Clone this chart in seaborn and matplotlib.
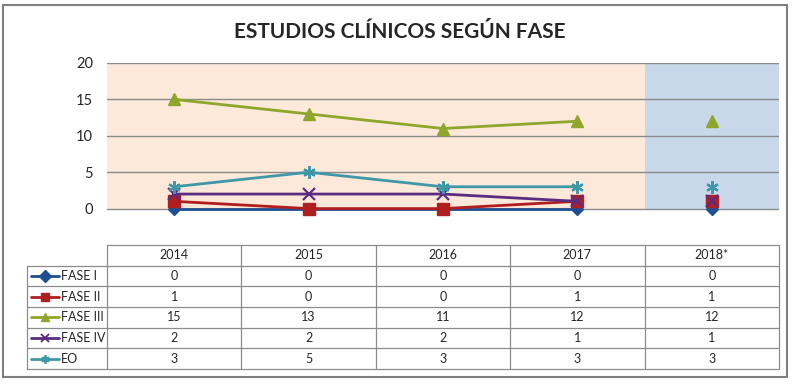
import numpy as np
import pandas as pd
import matplotlib
matplotlib.use("Agg")
import matplotlib.pyplot as plt
import seaborn as sns
from matplotlib.patches import Rectangle

# datos
years = ["2014", "2015", "2016", "2017", "2018*"]
series = ["FASE I", "FASE II", "FASE III", "FASE IV", "EO"]
fase_1 = [0, 0, 0, 0, 0]
fase_2 = [1, 0, 0, 1, 1]
fase_3 = [15, 13, 11, 12, 12]
fase_4 = [2, 2, 2, 1, 1]
eo = [3, 5, 3, 3, 3]
values = [fase_1, fase_2, fase_3, fase_4, eo]

colors = ["#1f4f91", "#b01f1f", "#8ea62a", "#5b2d82", "#3f98a8"]
markers = ["D", "s", "^", "x", (6, 2, 0)]
msizes = [6, 8, 8, 8, 9]

sns.set_style("white")
plt.rcParams["font.family"] = ["Lato", "DejaVu Sans"]

fig = plt.figure(figsize=(8, 3.87), dpi=100)
ax = fig.add_axes([107 / 800, 1 - 245 / 387, 672 / 800, 182 / 387])
tab = fig.add_axes([107 / 800, 1 - 369 / 387, 672 / 800, 124 / 387])

x = np.arange(len(years))
ax.set_xlim(-0.5, 4.5)
ax.set_ylim(-5, 20)

# fondos
ax.axvspan(-0.5, 3.5, ymin=0.2, ymax=1, color="#fde9da", zorder=0, lw=0)
ax.axvspan(3.5, 4.5, ymin=0.2, ymax=1, color="#c8d8ea", zorder=0, lw=0)
for yv in [0, 5, 10, 15, 20]:
    ax.axhline(yv, color="#8a8a8a", lw=1, zorder=1)

for name, vals, c, m, ms in zip(series, values, colors, markers, msizes):
    mew = 1.6 if m in ("x", (6, 2, 0)) else 1
    sns.lineplot(x=x[:4], y=vals[:4], color=c, marker=m, markersize=ms,
                 markeredgecolor=c, markeredgewidth=mew, lw=2, ax=ax, zorder=3)
    sns.lineplot(x=x[4:], y=vals[4:], color=c, marker=m, markersize=ms,
                 markeredgecolor=c, markeredgewidth=mew, lw=0, ax=ax, zorder=3)

ax.set_yticks([0, 5, 10, 15, 20])
ax.set_yticklabels([str(v) for v in [0, 5, 10, 15, 20]], fontsize=10.5)
ax.tick_params(axis="y", length=0, pad=10)
ax.set_xticks([])
ax.set_xlabel("")
ax.set_ylabel("")
for s in ax.spines.values():
    s.set_visible(False)

# tabla de datos
left = -0.5 - 80 / 134.4
tab.set_xlim(-0.5, 4.5)
tab.set_ylim(6, 0)
tab.axis("off")
gc = "#8c8c8c"
tab.plot([-0.5, 4.5], [0, 0], color=gc, lw=0.9, clip_on=False)
for r in range(1, 7):
    tab.plot([left, 4.5], [r, r], color=gc, lw=0.9, clip_on=False)
for cx in np.arange(-0.5, 5.0, 1.0):
    tab.plot([cx, cx], [0, 6], color=gc, lw=0.9, clip_on=False)
tab.plot([left, left], [1, 6], color=gc, lw=0.9, clip_on=False)

for i, yr in enumerate(years):
    tab.text(i, 0.5, yr, ha="center", va="center", fontsize=9)
for r, (name, vals, c, m) in enumerate(zip(series, values, colors, markers)):
    mew = 1.3 if m in ("x", (6, 2, 0)) else 1
    yc = r + 1.5
    tab.plot([left + 0.03, left + 0.24], [yc, yc], color=c, lw=2,
             clip_on=False)
    tab.plot([left + 0.135], [yc], color=c, marker=m, markersize=6,
             markeredgecolor=c, markeredgewidth=mew, clip_on=False)
    tab.text(left + 0.255, yc, name, ha="left", va="center", fontsize=9)
    for i, v in enumerate(vals):
        tab.text(i, yc, str(v), ha="center", va="center", fontsize=9)

fig.text(0.5, 1 - 32 / 387, "ESTUDIOS CLÍNICOS SEGÚN FASE", ha="center",
         va="center", fontsize=15, fontweight="bold",
         family=["Lato", "DejaVu Sans"])

fig.patches.append(Rectangle((3 / 800, 1 - 377 / 387), 784 / 800, 372 / 387,
                             transform=fig.transFigure, fill=False,
                             edgecolor="#7f7f7f", lw=1.5))

fig.savefig("out.png", dpi=100)
